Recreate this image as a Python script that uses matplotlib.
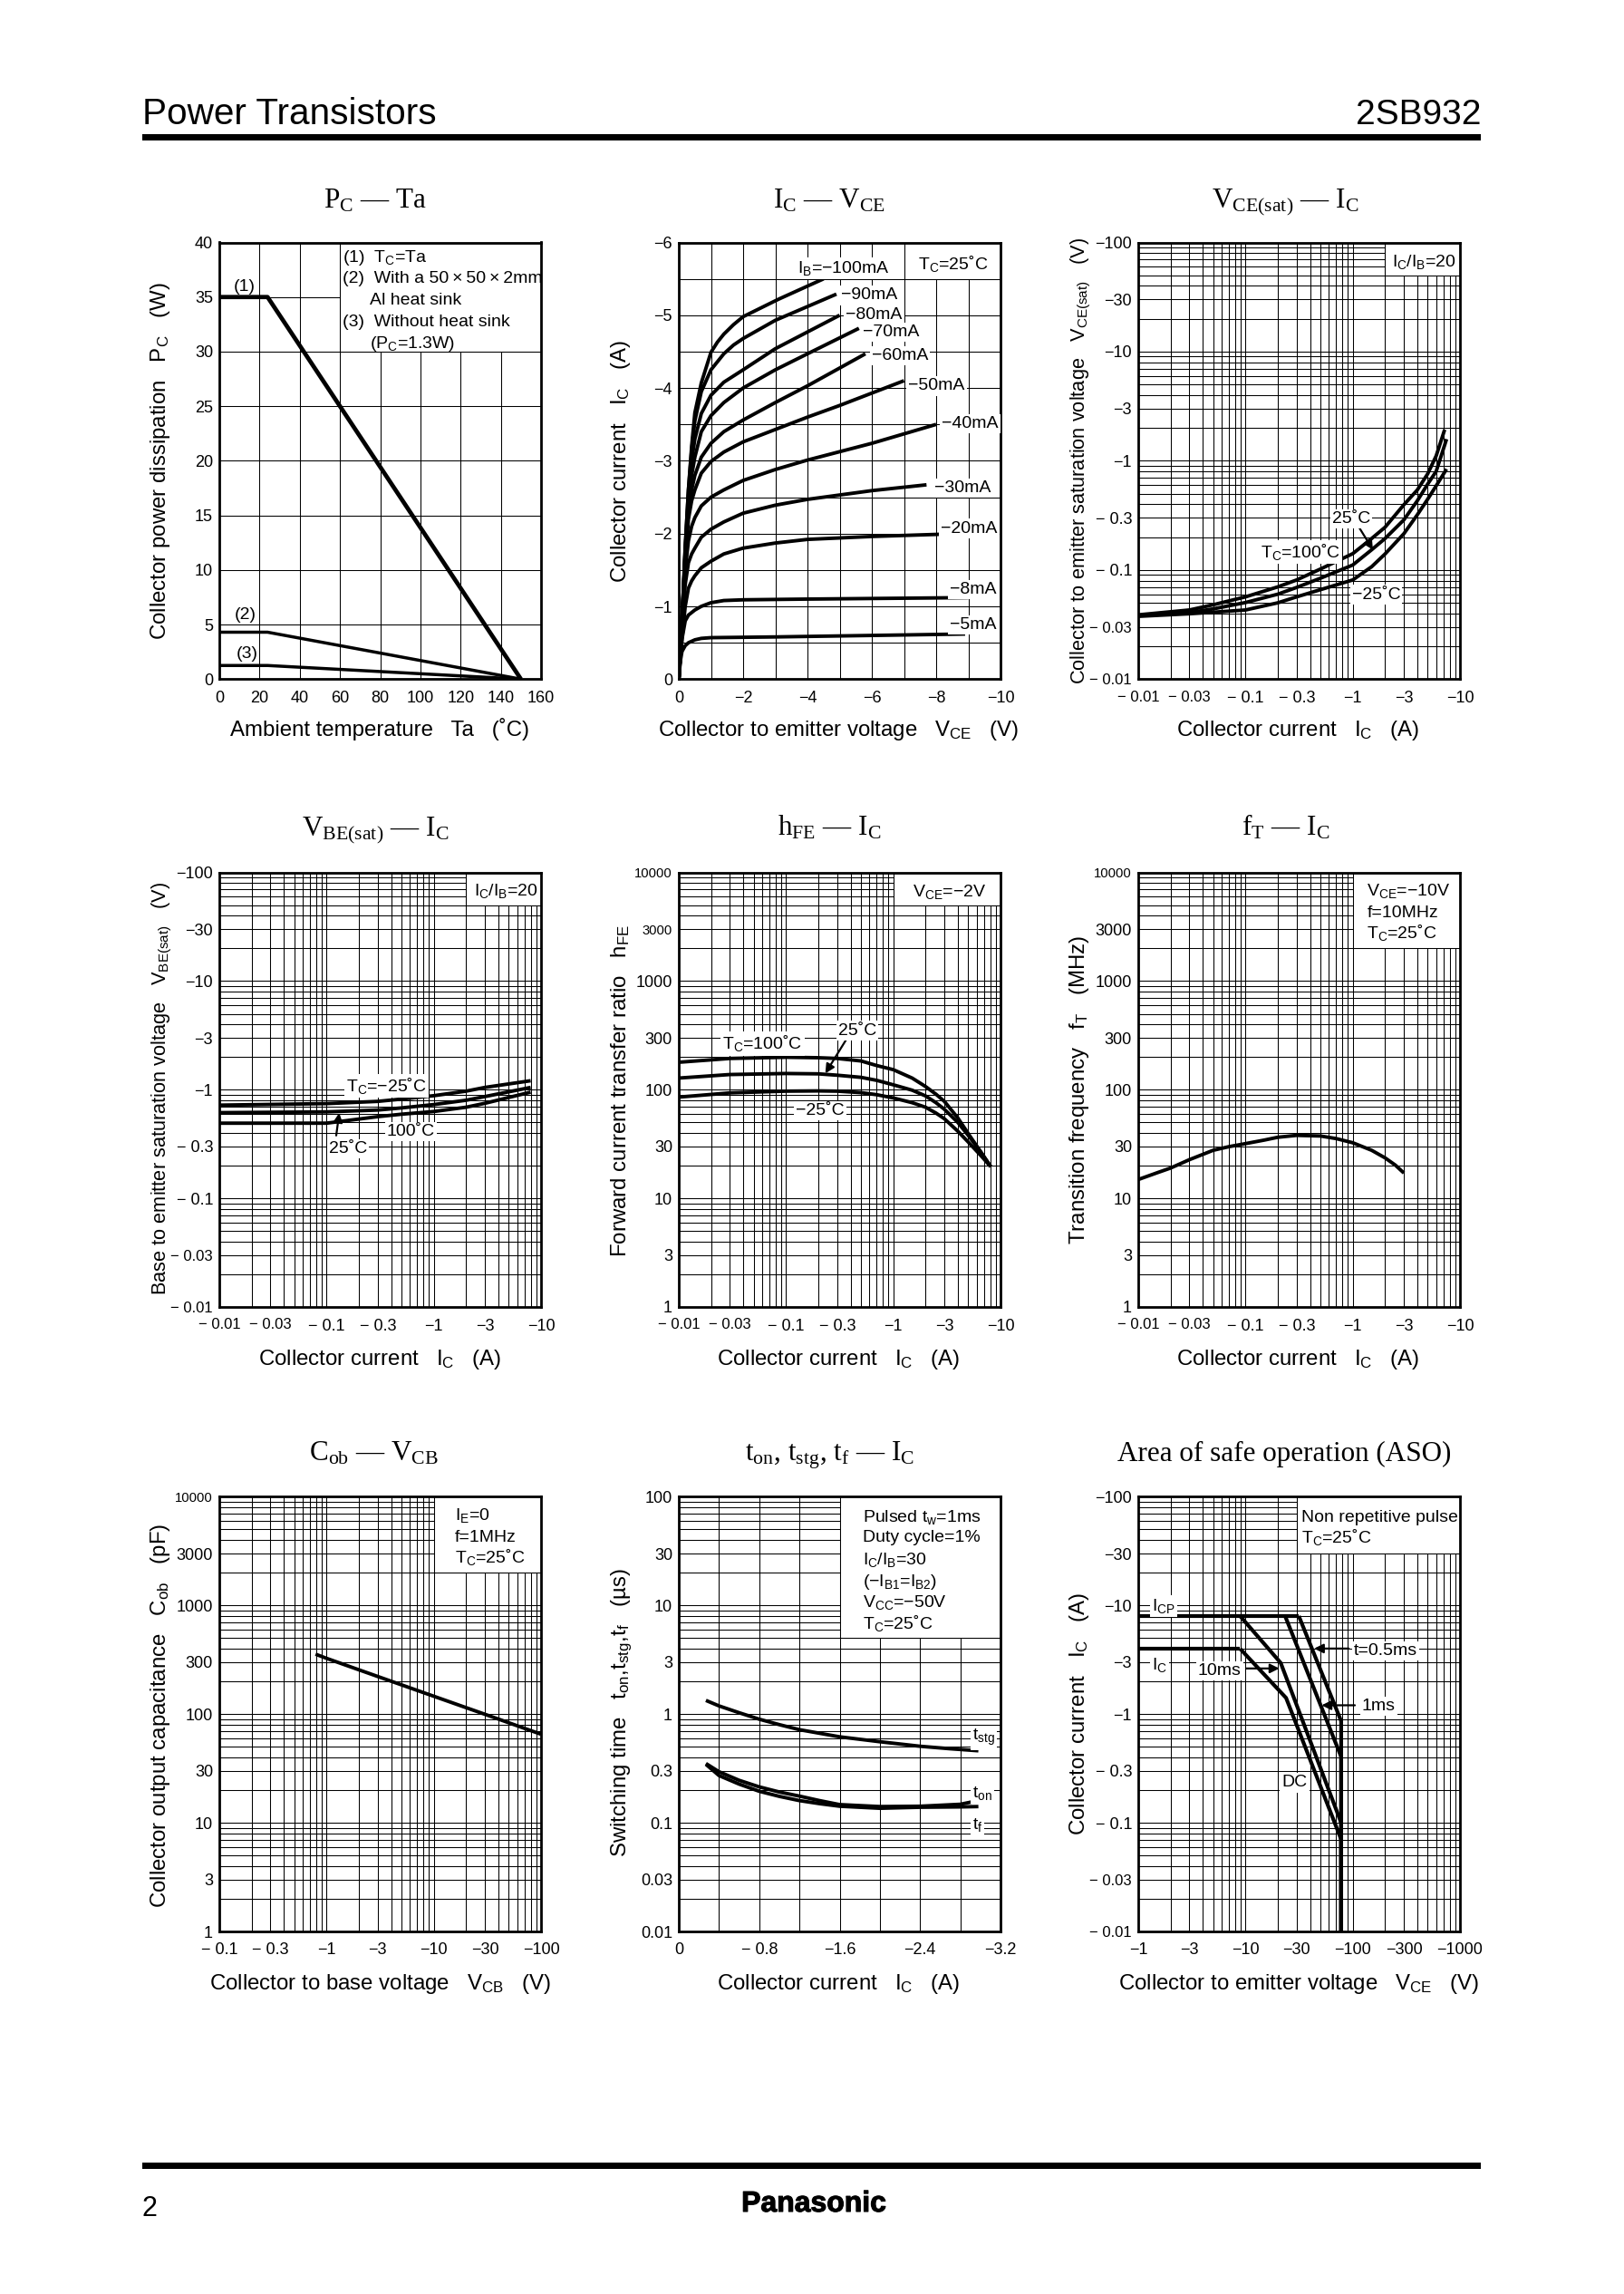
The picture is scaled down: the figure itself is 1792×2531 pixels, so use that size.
#!/usr/bin/python3
from matplotlib import pyplot as plt
from matplotlib import patheffects
from matplotlib.patches import Rectangle
from matplotlib.ticker import LogLocator, NullFormatter

plt.rcParams['font.family'] = ['Liberation Sans', 'DejaVu Sans']
plt.rcParams['mathtext.fontset'] = 'custom'
plt.rcParams['mathtext.default'] = 'regular'

W, H = 1792, 2531

# PC - Ta
ta_pc1, pc1 = [0, 24, 150], [35, 35, 0]
ta_pc2, pc2 = [0, 24, 150], [4.3, 4.3, 0]
ta_pc3, pc3 = [0, 24, 150], [1.25, 1.25, 0]

# IC - VCE, one list pair per base current
v100, i100 = [0, .05, .1, .2, .3, .4, .5, .7, 1, 1.2, 1.4, 1.7, 2, 3.1, 4.5], [0, .35, .8, 1.8, 2.6, 3.2, 3.66, 4.07, 4.49, 4.63, 4.74, 4.87, 4.98, 5.22, 5.5]
v90, i90 = [0, .05, .1, .2, .3, .4, .5, .7, 1, 1.4, 1.7, 2, 3, 4.9], [0, .35, .8, 1.8, 2.6, 3.15, 3.55, 3.95, 4.25, 4.47, 4.59, 4.68, 4.93, 5.29]
v80, i80 = [0, .05, .1, .2, .3, .4, .5, .7, 1, 1.4, 2, 3, 5], [0, .35, .8, 1.75, 2.5, 3.0, 3.3, 3.65, 3.9, 4.08, 4.25, 4.54, 5.0]
v70, i70 = [0, .05, .1, .2, .3, .4, .5, .7, 1, 1.4, 2, 3, 4, 5.6], [0, .35, .8, 1.7, 2.4, 2.8, 3.05, 3.4, 3.62, 3.8, 4.0, 4.25, 4.47, 4.82]
v60, i60 = [0, .05, .1, .2, .3, .4, .5, .7, 1, 1.4, 2, 3, 4, 5.8], [0, .35, .8, 1.65, 2.3, 2.6, 2.8, 3.05, 3.24, 3.4, 3.56, 3.8, 4.03, 4.47]
v50, i50 = [0, .05, .1, .2, .3, .4, .5, .7, 1, 1.4, 2, 3, 4, 5, 7], [0, .35, .8, 1.6, 2.2, 2.45, 2.6, 2.83, 2.99, 3.12, 3.26, 3.43, 3.6, 3.76, 4.1]
v40, i40 = [0, .05, .1, .2, .3, .4, .5, .7, 1, 1.4, 2, 3, 4, 6, 8], [0, .35, .8, 1.5, 1.9, 2.1, 2.22, 2.38, 2.5, 2.6, 2.73, 2.88, 3.01, 3.24, 3.5]
v30, i30 = [0, .05, .1, .2, .3, .4, .5, .7, 1, 1.4, 2, 3, 4, 6, 7.7], [0, .35, .7, 1.3, 1.6, 1.72, 1.8, 1.95, 2.06, 2.16, 2.28, 2.39, 2.47, 2.59, 2.67]
v20, i20 = [0, .05, .1, .2, .3, .4, .5, .7, 1, 1.4, 2, 3, 4, 6, 8.1], [0, .3, .55, 1.0, 1.25, 1.35, 1.42, 1.53, 1.62, 1.72, 1.8, 1.87, 1.92, 1.96, 1.99]
v8, i8 = [0, .05, .1, .2, .3, .5, .7, 1, 1.4, 2, 4, 9], [0, .3, .55, .8, .88, .95, 1.0, 1.05, 1.08, 1.09, 1.1, 1.12]
v5, i5 = [0, .05, .1, .2, .3, .5, .7, 1, 3, 8.9], [0, .25, .38, .46, .5, .54, .56, .57, .58, .62]

# VCE(sat) - IC
ic_ce = [.01, .03, .05, .1, .2, .3, .5, 1, 1.5, 2, 3, 4, 5, 6]
vce_100 = [.0388, .043, .048, .0567, .070, .081, .102, .141, .194, .246, .396, .54, .76, 1.11]
vce_25 = [.0382, .0407, .044, .0503, .060, .0692, .084, .111, .153, .194, .288, .43, .612, .80]
vce_m25 = [.0376, .0397, .041, .043, .050, .0567, .066, .081, .107, .14, .215, .32, .445, .59]
ic_ce_end = [7.2, 7.5, 7.5]
vce_end = [1.93, 1.58, .84]

# VBE(sat) - IC
ic_be = [.01, .1, .3, .5, 1, 2, 3, 8]
vbe_m25 = [.721, .745, .781, .82, .881, .97, 1.05, 1.21]
vbe_25 = [.615, .625, .65, .68, .73, .80, .865, 1.05]
vbe_100 = [.492, .492, .565, .595, .63, .69, .75, .95]

# hFE - IC
ic_hfe = [.01, .03, .1, .2, .3, .5, .7, 1, 1.5, 2, 2.5, 3, 4, 5, 6.5, 8.1]
hfe_100 = [179, 194, 199, 197, 194, 184, 167, 153, 128, 107, 91, 78, 55, 39.5, 27, 19.6]
hfe_25 = [128, 138, 141, 140, 136, 130, 122, 111, 99, 87.7, 76, 66, 50, 38, 27, 19.6]
hfe_m25 = [85.5, 93.5, 97, 97.5, 97, 94, 90, 84, 76, 69, 61, 54, 41.5, 33, 25, 19.6]

# fT - IC
ic_ft = [.01, .015, .02, .03, .05, .07, .1, .15, .2, .3, .5, .7, 1, 1.5, 2, 2.5, 3]
ft = [14.9, 17.2, 19, 22.7, 27.7, 29.9, 31.9, 34.4, 36.5, 38, 37.5, 35.5, 32.5, 27.7, 23.6, 20.2, 17.1]

# Cob - VCB
vcb = [.79, 1, 3, 10, 30, 100]
cob = [356, 326, 222, 146, 99.6, 65.3]

# ton, tstg, tf - IC
ic_stg = [.27, .4, .6, .8, 1, 1.2, 1.6, 2, 2.4, 2.7, 2.98]
tstg = [1.337, 1.19, 1.03, .898, .80, .719, .618, .557, .506, .48, .46]
ic_sw = [.27, .4, .6, .8, 1, 1.2, 1.4, 1.6, 2, 2.4, 2.8, 2.98]
ton = [.351, .295, .246, .214, .192, .176, .160, .147, .141, .142, .148, .16]
tf = [.345, .272, .227, .195, .175, .16, .15, .142, .136, .139, .14, .141]

# ASO
v_ic, a_ic = [1, 8.9], [4, 4]
v_icp, a_icp = [1, 31.4], [8, 8]
v_dc, a_dc = [8.9, 23.9, 78, 78], [4, 1.41, .0703, .01]
v_10ms, a_10ms = [8.9, 21.3, 78, 78], [8, 2.96, .1, .01]
v_1ms, a_1ms = [23.4, 78, 78], [8, .405, .01]
v_05ms, a_05ms = [31.4, 78, 78], [8, .863, .01]

# tick values and labels
neg = '\u2212'
pct_x = [0, 20, 40, 60, 80, 100, 120, 140, 160]
pct_y = [0, 5, 10, 15, 20, 25, 30, 35, 40]
vce_x = [0, 2, 4, 6, 8, 10]
vce_x_lab = ['0'] + [neg + str(v) for v in vce_x[1:]]
ice_y = [0, 1, 2, 3, 4, 5, 6]
ice_y_lab = ['0'] + [neg + str(v) for v in ice_y[1:]]
log_i = [.01, .03, .1, .3, 1, 3, 10]
log_i_lab = [neg + ' 0.01', neg + ' 0.03', neg + ' 0.1', neg + ' 0.3', neg + '1', neg + '3', neg + '10']
log_v = [.01, .03, .1, .3, 1, 3, 10, 30, 100]
log_v_lab = [neg + ' 0.01', neg + ' 0.03', neg + ' 0.1', neg + ' 0.3', neg + '1', neg + '3', neg + '10', neg + '30', neg + '100']
log_n = [1, 3, 10, 30, 100, 300, 1000, 3000, 10000]
log_n_lab = ['1', '3', '10', '30', '100', '300', '1000', '3000', '10000']
vcb_x = [.1, .3, 1, 3, 10, 30, 100]
vcb_x_lab = [neg + ' 0.1', neg + ' 0.3', neg + '1', neg + '3', neg + '10', neg + '30', neg + '100']
sw_x = [0, .8, 1.6, 2.4, 3.2]
sw_x_lab = ['0', neg + ' 0.8', neg + '1.6', neg + '2.4', neg + '3.2']
sw_grid_x = [.4, 1.2, 2, 2.8]
sw_y = [.01, .03, .1, .3, 1, 3, 10, 30, 100]
sw_y_lab = ['0.01', '0.03', '0.1', '0.3', '1', '3', '10', '30', '100']
aso_x = [1, 3, 10, 30, 100, 300, 1000]
aso_x_lab = [neg + str(v) for v in aso_x]

fig = plt.figure(figsize=(W / 100, H / 100), dpi=100)


def fx(x):
    return x / W


def fy(y):
    return 1 - y / H


def panel(left, right, top, bottom):
    ax = fig.add_axes([fx(left), fy(bottom), (right - left) / W, (bottom - top) / H])
    ax.set_axisbelow(True)
    for s in ax.spines.values():
        s.set_linewidth(2)
    ax.tick_params(which='both', length=0, labelsize=13)
    ax.tick_params(axis='x', which='both', pad=9)
    ax.tick_params(axis='y', which='both', pad=5)
    return ax


def setup(ax, xt, xl, yt, yl, xlog=False, ylog=False):
    if xlog:
        ax.set_xscale('log')
    if ylog:
        ax.set_yscale('log')
    ax.set_xlim(xt[0], xt[-1])
    ax.set_ylim(yt[0], yt[-1])
    ax.set_xticks(xt, xl)
    ax.set_yticks(yt, yl)
    if xlog:
        ax.xaxis.set_minor_locator(LogLocator(base=10, subs=range(1, 10), numticks=12))
        ax.xaxis.set_minor_formatter(NullFormatter())
    if ylog:
        ax.yaxis.set_minor_locator(LogLocator(base=10, subs=range(1, 10), numticks=12))
        ax.yaxis.set_minor_formatter(NullFormatter())
    ax.grid(True, which='both', color='black', lw=0.75)
    # the small negative labels are set narrower in the datasheet
    for lab in ax.get_xticklabels() + ax.get_yticklabels():
        if lab.get_text() in (neg + ' 0.01', neg + ' 0.03'):
            lab.set_fontsize(12)


def white_box(ax, x0, x1, y0, y1):
    # note area: grid stops here, its lower and left edge stay
    ax.add_patch(Rectangle((x0, y0), x1 - x0, y1 - y0, fc='white', ec='none', zorder=1))
    ax.plot([x0, x0], [y0, y1], color='black', lw=0.75, zorder=1.5)
    ax.plot([x0, x1], [y0, y0], color='black', lw=0.75, zorder=1.5)


def curve(ax, x, y, lw=2.8):
    ax.plot(x, y, color='black', lw=lw, solid_joinstyle='round', solid_capstyle='butt', zorder=3)


def title(x, y, s):
    fig.text(fx(x), fy(y), s, ha='center', va='baseline', fontsize=22.4,
             family=['Liberation Serif', 'DejaVu Serif'])


def xlabel(x, y, s):
    fig.text(fx(x), fy(y), s, ha='center', va='baseline', fontsize=17.3)


def ylabel(x, y, s, size=17.3):
    fig.text(fx(x), fy(y), s, rotation=90, rotation_mode='anchor', ha='left', va='baseline', fontsize=size)


def note(org, zx, zy, s, white=True, size=14):
    # zx, zy are measured on a crop: 3x across, 2.412x down
    x = org[0] + zx / 3
    y = org[1] + zy / 2.412 + 0.36 * size * 100 / 72
    t = fig.text(fx(x), fy(y), s, ha='left', va='baseline', fontsize=size)
    if white:
        t.set_bbox(dict(fc='white', ec='none', pad=1.5))


def arrow(ax, org, z0, z1):
    p0 = (org[0] + z0[0] / 3, H - (org[1] + z0[1] / 2.412))
    p1 = (org[0] + z1[0] / 3, H - (org[1] + z1[1] / 2.412))
    ax.annotate('', xy=p1, xytext=p0, xycoords='figure pixels', textcoords='figure pixels',
                arrowprops=dict(arrowstyle='-|>', color='black', lw=1.6, mutation_scale=15,
                                shrinkA=0, shrinkB=0), zorder=6)


col1 = (242, 597)
col2 = (749, 1104)
col3 = (1256, 1611)
row1 = (267.5, 749.3)
row2 = (962.6, 1442)
row3 = (1651.4, 2131)

# page furniture
fig.add_artist(Rectangle((fx(157), fy(155)), (1634 - 157) / W, 7 / H, fc='black', ec='none', transform=fig.transFigure))
fig.add_artist(Rectangle((fx(157), fy(2393)), (1634 - 157) / W, 7 / H, fc='black', ec='none', transform=fig.transFigure))
fig.text(fx(157), fy(137), 'Power Transistors', fontsize=29.2, ha='left', va='baseline')
fig.text(fx(1634), fy(137), '2SB932', fontsize=28, ha='right', va='baseline')
fig.text(fx(157), fy(2445), '2', fontsize=22, ha='left', va='baseline')
logo = fig.text(fx(898), fy(2440), 'Panasonic', fontsize=23, ha='center', va='baseline', fontweight='bold')
logo.set_path_effects([patheffects.withStroke(linewidth=0.8, foreground='black')])

# 1: PC - Ta
ax = panel(*col1, *row1)
setup(ax, pct_x, [str(v) for v in pct_x], pct_y, [str(v) for v in pct_y])
white_box(ax, 60, 160, 30, 40)
curve(ax, ta_pc1, pc1, 3.4)
curve(ax, ta_pc2, pc2, 2.5)
curve(ax, ta_pc3, pc3, 2.5)
title(414, 229.4, 'P$_C$ \u2014 Ta')
xlabel(419, 812, 'Ambient temperature   Ta   (\u02daC)')
ylabel(183, 706, 'Collector power dissipation   P$_C$   (W)')
o = (140, 190)
note(o, 352, 298, '(1)', False)
note(o, 355, 1172, '(2)', False)
note(o, 363, 1275, '(3)', False)
note(o, 715, 222, '(1)  T$_C$=Ta', False)
note(o, 715, 278, '(2)  With a 50\u2009\u00d7\u200950\u2009\u00d7\u20092mm', False)
note(o, 805, 335, 'Al heat sink', False)
note(o, 715, 392, '(3)  Without heat sink', False)
note(o, 805, 450, '(P$_C$=1.3W)', False)

# 2: IC - VCE
ax = panel(*col2, *row1)
setup(ax, vce_x, vce_x_lab, ice_y, ice_y_lab)
ax.set_xticks(range(11), minor=True)
ax.set_yticks([v / 2 for v in range(13)], minor=True)
ax.grid(True, which='both', color='black', lw=0.75)
white_box(ax, 7, 10, 5.5, 6)
for vv, ii in [(v100, i100), (v90, i90), (v80, i80), (v70, i70), (v60, i60), (v50, i50),
               (v40, i40), (v30, i30), (v20, i20), (v8, i8), (v5, i5)]:
    curve(ax, vv, ii)
title(915, 229.4, 'I$_C$ \u2014 V$_{CE}$')
xlabel(925, 812, 'Collector to emitter voltage   V$_{CE}$   (V)')
ylabel(691, 643, 'Collector current   I$_C$   (A)')
o = (660, 190)
note(o, 660, 250, 'I$_B$=' + neg + '100mA')
note(o, 803, 322, neg + '90mA')
note(o, 820, 373, neg + '80mA')
note(o, 877, 420, neg + '70mA')
note(o, 905, 483, neg + '60mA')
note(o, 1027, 563, neg + '50mA')
note(o, 1138, 663, neg + '40mA')
note(o, 1112, 835, neg + '30mA')
note(o, 1135, 942, neg + '20mA')
note(o, 1165, 1105, neg + '8mA')
note(o, 1165, 1198, neg + '5mA')
note(o, 1060, 240, 'T$_C$=25\u02daC', False)

# 3: VCE(sat) - IC
ax = panel(*col3, *row1)
setup(ax, log_i, log_i_lab, log_v, log_v_lab, True, True)
white_box(ax, 2, 10, 50, 100)
curve(ax, ic_ce + ic_ce_end[:1], vce_100 + vce_end[:1])
curve(ax, ic_ce + ic_ce_end[1:2], vce_25 + vce_end[1:2])
curve(ax, ic_ce + ic_ce_end[2:], vce_m25 + vce_end[2:])
title(1418, 229.4, 'V$_{CE(sat)}$ \u2014 I$_C$')
xlabel(1432, 812, 'Collector current   I$_C$   (A)')
ylabel(1197, 755, 'Collector to emitter saturation voltage   V$_{CE(sat)}$   (V)', 15.7)
o = (1170, 190)
note(o, 900, 917, '25\u02daC')
note(o, 662, 1008, 'T$_C$=100\u02daC')
note(o, 965, 1118, neg + '25\u02daC')
note(o, 1098, 235, 'I$_C$/I$_B$=20', False)
arrow(ax, o, (985, 940), (1035, 1005))

# 4: VBE(sat) - IC
ax = panel(*col1, *row2)
setup(ax, log_i, log_i_lab, log_v, log_v_lab, True, True)
white_box(ax, 2, 10, 50, 100)
curve(ax, ic_be, vbe_m25)
curve(ax, ic_be, vbe_25)
curve(ax, ic_be, vbe_100)
title(414, 922, 'V$_{BE(sat)}$ \u2014 I$_C$')
xlabel(419, 1506, 'Collector current   I$_C$   (A)')
ylabel(183, 1429, 'Base to emitter saturation voltage   V$_{BE(sat)}$   (V)', 15.7)
o = (140, 890)
note(o, 725, 740, 'T$_C$=' + neg + '25\u02daC')
note(o, 860, 858, '100\u02daC')
note(o, 668, 905, '25\u02daC')
note(o, 1148, 220, 'I$_C$/I$_B$=20', False)
arrow(ax, o, (693, 875), (703, 815))

# 5: hFE - IC
ax = panel(*col2, *row2)
setup(ax, log_i, log_i_lab, log_n, log_n_lab, True, True)
white_box(ax, 1, 10, 5000, 10000)
curve(ax, ic_hfe, hfe_100)
curve(ax, ic_hfe, hfe_25)
curve(ax, ic_hfe, hfe_m25)
title(915, 922, 'h$_{FE}$ \u2014 I$_C$')
xlabel(925, 1506, 'Collector current   I$_C$   (A)')
ylabel(691, 1387, 'Forward current transfer ratio   h$_{FE}$')
for lab in ax.get_yticklabels()[-2:]:
    lab.set_fontsize(10.6)
o = (660, 890)
note(o, 795, 590, '25\u02daC')
note(o, 412, 628, 'T$_C$=100\u02daC')
note(o, 655, 803, neg + '25\u02daC')
note(o, 1040, 222, 'V$_{CE}$=' + neg + '2V', False)
arrow(ax, o, (825, 615), (752, 710))

# 6: fT - IC
ax = panel(*col3, *row2)
setup(ax, log_i, log_i_lab, log_n, log_n_lab, True, True)
white_box(ax, 1, 10, 2000, 10000)
curve(ax, ic_ft, ft)
title(1419, 922, 'f$_T$ \u2014 I$_C$')
xlabel(1432, 1506, 'Collector current   I$_C$   (A)')
ylabel(1197, 1373, 'Transition frequency   f$_T$   (MHz)')
ax.get_yticklabels()[-1].set_fontsize(10.6)
o = (1170, 890)
note(o, 1015, 220, 'V$_{CE}$=' + neg + '10V', False)
note(o, 1015, 278, 'f=10MHz', False)
note(o, 1015, 333, 'T$_C$=25\u02daC', False)

# 7: Cob - VCB
ax = panel(*col1, *row3)
setup(ax, vcb_x, vcb_x_lab, log_n, log_n_lab, True, True)
white_box(ax, 10, 100, 2000, 10000)
curve(ax, vcb, cob)
title(413, 1611.6, 'C$_{ob}$ \u2014 V$_{CB}$')
xlabel(419, 2195, 'Collector to base voltage   V$_{CB}$   (V)')
ylabel(183, 2105, 'Collector output capacitance   C$_{ob}$   (pF)')
ax.get_yticklabels()[-1].set_fontsize(10.6)
o = (140, 1590)
note(o, 1085, 193, 'I$_E$=0', False)
note(o, 1085, 250, 'f=1MHz', False)
note(o, 1085, 307, 'T$_C$=25\u02daC', False)

# 8: switching time
ax = panel(*col2, *row3)
setup(ax, sw_x, sw_x_lab, sw_y, sw_y_lab, False, True)
ax.set_xticks(sw_grid_x, minor=True)
ax.grid(True, which='both', color='black', lw=0.75)
white_box(ax, 1.6, 3.2, 5, 100)
curve(ax, ic_stg, tstg)
curve(ax, ic_sw, ton)
curve(ax, ic_sw, tf)
title(916, 1611.6, 't$_{on}$, t$_{stg}$, t$_f$ \u2014 I$_C$')
xlabel(925, 2195, 'Collector current   I$_C$   (A)')
ylabel(691, 2049, 'Switching time   t$_{on}$,t$_{stg}$,t$_f$   (\u00b5s)')
o = (660, 1590)
note(o, 875, 197, 'Pulsed t$_w$=1ms', False)
note(o, 875, 252, 'Duty cycle=1%', False)
note(o, 875, 310, 'I$_C$/I$_B$=30', False)
note(o, 875, 368, '(' + neg + 'I$_{B1}$=I$_{B2}$)', False)
note(o, 875, 424, 'V$_{CC}$=' + neg + '50V', False)
note(o, 875, 482, 'T$_C$=25\u02daC', False)
note(o, 1238, 780, 't$_{stg}$')
note(o, 1238, 930, 't$_{on}$')
note(o, 1238, 1015, 't$_f$')

# 9: ASO
ax = panel(*col3, *row3)
setup(ax, aso_x, aso_x_lab, log_v, log_v_lab, True, True)
white_box(ax, 30, 1000, 30, 100)
curve(ax, v_icp, a_icp, 3)
curve(ax, v_ic, a_ic, 3)
curve(ax, v_dc, a_dc, 3)
curve(ax, v_10ms, a_10ms, 3)
curve(ax, v_1ms, a_1ms, 3)
curve(ax, v_05ms, a_05ms, 3)
title(1417, 1611.6, 'Area of safe operation (ASO)')
xlabel(1433, 2195, 'Collector to emitter voltage   V$_{CE}$   (V)')
ylabel(1197, 2025, 'Collector current   I$_C$   (A)')
o = (1170, 1590)
note(o, 302, 435, 'I$_{CP}$')
note(o, 302, 592, 'I$_C$')
note(o, 455, 605, '10ms')
note(o, 972, 552, 't=0.5ms')
note(o, 998, 700, '1ms')
note(o, 733, 903, 'DC')
note(o, 798, 197, 'Non repetitive pulse', False)
note(o, 798, 253, 'T$_C$=25\u02daC', False)
arrow(ax, o, (955, 552), (840, 552))
arrow(ax, o, (975, 703), (865, 703))
arrow(ax, o, (615, 605), (725, 605))

fig.savefig('out.png', dpi=100)
